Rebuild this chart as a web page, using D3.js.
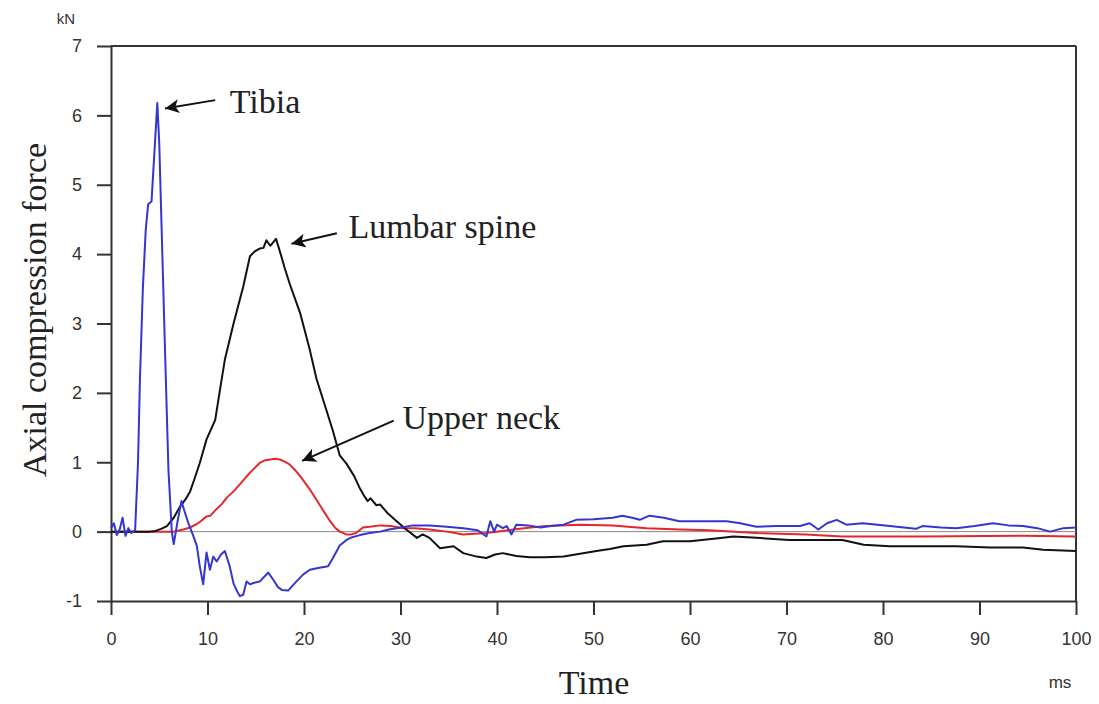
<!DOCTYPE html>
<html>
<head>
<meta charset="utf-8">
<script src="https://cdn.jsdelivr.net/npm/d3@7"></script>
<style>
  html, body { margin: 0; padding: 0; background: #fff; }
  svg { display: block; }
</style>
</head>
<body>
<svg id="chart" width="1099" height="704"></svg>
<script>
// ---- data (time in ms, force in kN) ----
const xTicks = [0, 10, 20, 30, 40, 50, 60, 70, 80, 90, 100];
const yTicks = [-1, 0, 1, 2, 3, 4, 5, 6, 7];

const tibia = [[0,0.05],[0.3,0.12],[0.6,-0.05],[0.9,0.03],[1.2,0.2],[1.5,-0.06],[1.8,0.05],[2.1,-0.02],[2.5,0.02],
  [2.8,1.0],[3.0,2.2],[3.3,3.5],[3.6,4.35],[3.85,4.72],[4.2,4.76],[4.8,6.18],[5.0,5.6],[5.25,4.35],[5.6,2.6],[5.95,0.9],
  [6.3,0.0],[6.5,-0.18],[6.9,0.15],[7.3,0.44],[7.6,0.3],[8.0,0.13],[8.5,-0.05],[8.9,-0.21],[9.2,-0.5],[9.55,-0.76],
  [9.9,-0.3],[10.25,-0.55],[10.6,-0.36],[10.95,-0.43],[11.4,-0.33],[11.8,-0.28],[12.3,-0.5],[12.7,-0.75],[13.0,-0.84],
  [13.35,-0.93],[13.7,-0.91],[14.05,-0.72],[14.4,-0.76],[14.75,-0.74],[15.4,-0.72],[16.3,-0.59],[16.8,-0.69],[17.3,-0.8],
  [17.7,-0.84],[18.35,-0.85],[19.2,-0.72],[19.9,-0.62],[20.6,-0.55],[21.6,-0.52],[22.5,-0.5],[23.0,-0.38],[23.7,-0.2],
  [24.4,-0.12],[25.0,-0.08],[25.8,-0.05],[26.8,-0.02],[27.9,0.0],[28.8,0.03],[29.6,0.05],[31.3,0.09],[33.0,0.09],
  [34.8,0.07],[36.5,0.05],[38.0,0.02],[38.9,-0.07],[39.3,0.15],[39.7,0.0],[40.0,0.1],[40.6,0.05],[41.0,0.08],[41.5,-0.04],
  [42.0,0.1],[43.2,0.09],[44.5,0.06],[45.6,0.08],[46.9,0.1],[48.2,0.17],[50.0,0.18],[52.0,0.2],[53.0,0.23],[54.0,0.2],
  [54.8,0.17],[55.8,0.23],[57.3,0.2],[58.9,0.15],[60.5,0.15],[62.0,0.15],[63.8,0.15],[65.2,0.12],[66.9,0.07],[69.0,0.08],
  [71.4,0.08],[72.4,0.12],[73.3,0.03],[74.2,0.12],[75.2,0.17],[76.2,0.1],[77.9,0.12],[80.7,0.08],[83.4,0.04],[84.1,0.08],
  [86.0,0.06],[87.6,0.05],[89.5,0.08],[91.4,0.12],[93.0,0.09],[94.5,0.08],[96.0,0.05],[97.3,0.0],[98.7,0.05],[100,0.06]];

const lumbar = [[0,0],[4,0],[4.6,0.01],[5.2,0.04],[5.8,0.08],[6.5,0.2],[7.15,0.36],[7.7,0.46],[8.2,0.58],[8.7,0.78],
  [9.2,0.99],[9.9,1.33],[10.8,1.61],[11.3,2.05],[11.8,2.48],[12.7,3.0],[13.7,3.53],[14.4,3.97],[14.9,4.04],[15.4,4.08],
  [15.8,4.09],[16.1,4.2],[16.5,4.12],[17.1,4.22],[17.5,4.04],[18.0,3.8],[18.5,3.58],[19.6,3.15],[20.6,2.62],[21.3,2.2],
  [22.3,1.76],[23.0,1.45],[23.7,1.1],[24.4,0.98],[25.2,0.8],[25.8,0.62],[26.3,0.5],[26.6,0.44],[26.9,0.48],[27.5,0.38],
  [27.9,0.39],[28.7,0.26],[29.6,0.15],[30.6,0.03],[31.7,-0.09],[32.3,-0.04],[33.0,-0.09],[34.1,-0.24],[35.5,-0.21],
  [36.5,-0.31],[37.9,-0.36],[38.9,-0.38],[39.8,-0.33],[40.6,-0.31],[42.0,-0.35],[43.4,-0.37],[45.0,-0.37],[46.9,-0.36],
  [48.6,-0.32],[50.3,-0.28],[51.7,-0.25],[53.1,-0.21],[55.5,-0.19],[57.2,-0.14],[60,-0.14],[62.7,-0.1],[64.5,-0.07],
  [66.9,-0.09],[70.3,-0.12],[73,-0.12],[75.8,-0.12],[78,-0.19],[80.7,-0.21],[84,-0.21],[87.6,-0.21],[91.1,-0.23],
  [94.5,-0.23],[96.6,-0.26],[100,-0.28]];

const neck = [[0,0],[6.5,0],[7.5,0.03],[8.2,0.06],[8.9,0.11],[9.3,0.15],[9.9,0.22],[10.3,0.23],[10.9,0.32],[11.5,0.4],
  [12.0,0.49],[12.7,0.58],[13.35,0.68],[14.4,0.85],[15.4,0.99],[16.0,1.03],[16.5,1.04],[17.0,1.05],[17.5,1.04],[18.0,1.01],
  [18.5,0.97],[19.0,0.9],[19.6,0.8],[20.6,0.61],[21.6,0.39],[22.2,0.26],[22.7,0.15],[23.2,0.06],[23.7,0.0],[24.4,-0.04],
  [24.9,-0.04],[25.4,-0.02],[26.1,0.06],[26.8,0.07],[27.9,0.09],[29,0.08],[30.3,0.05],[31.5,0.05],[33,0.03],[34.8,0.0],
  [36.5,-0.04],[38.9,-0.02],[41.7,0.03],[43.5,0.06],[45.1,0.08],[48.6,0.1],[52,0.09],[55.5,0.05],[59,0.03],[62,0.02],
  [66.9,-0.02],[72,-0.04],[75.8,-0.07],[84,-0.07],[94.5,-0.06],[100,-0.07]];

// annotations: label, arrow tip [t, v], arrow tail [t, v], text anchor [t, v]
const labels = [
  { text: "Tibia",        tip: [5.6, 6.1],  tail: [10.8, 6.22], pos: [12.3, 6.03] },
  { text: "Lumbar spine", tip: [18.7, 4.15], tail: [23.4, 4.3], pos: [24.6, 4.23] },
  { text: "Upper neck",   tip: [19.8, 1.02], tail: [29.3, 1.6], pos: [30.2, 1.48] }
];

// ---- layout ----
const svg = d3.select("#chart");
const x = d3.scaleLinear().domain([0, 100]).range([111, 1076]);
const y = d3.scaleLinear().domain([-1, 7]).range([601, 46]);

const axisColor = "#333";
const serif = "'Liberation Serif', 'Times New Roman', serif";
const sans = "'Liberation Sans', Arial, sans-serif";

// frame: top and right
svg.append("line").attr("x1", x(0)).attr("x2", x(100)).attr("y1", y(7)).attr("y2", y(7))
  .attr("stroke", axisColor).attr("stroke-width", 2);
svg.append("line").attr("x1", x(100)).attr("x2", x(100)).attr("y1", y(7)).attr("y2", y(-1))
  .attr("stroke", axisColor).attr("stroke-width", 2);

// zero line
svg.append("line").attr("x1", x(0)).attr("x2", x(100)).attr("y1", y(0)).attr("y2", y(0))
  .attr("stroke", "#888").attr("stroke-width", 1);

// axes
const fmt = d => String(d);
const xAxis = svg.append("g").attr("transform", `translate(0,${y(-1)})`)
  .call(d3.axisBottom(x).tickValues(xTicks).tickFormat(fmt).tickSize(14).tickPadding(17).tickSizeOuter(0));
const yAxis = svg.append("g").attr("transform", `translate(${x(0)},0)`)
  .call(d3.axisLeft(y).tickValues(yTicks).tickFormat(fmt).tickSize(14).tickPadding(15).tickSizeOuter(0));

[xAxis, yAxis].forEach(g => {
  g.select(".domain").attr("stroke", axisColor).attr("stroke-width", 2);
  g.selectAll(".tick line").attr("stroke", axisColor).attr("stroke-width", 2);
  g.selectAll(".tick text").attr("fill", "#333")
    .style("font-family", sans).style("font-size", "18px");
});

// lines
const line = d3.line().x(d => x(d[0])).y(d => y(d[1]));
const series = [
  { data: neck,   color: "#e8262a" },
  { data: lumbar, color: "#111111" },
  { data: tibia,  color: "#3535cf" }
];
svg.append("g").selectAll("path").data(series).join("path")
  .attr("d", d => line(d.data))
  .attr("fill", "none").attr("stroke", d => d.color).attr("stroke-width", 2)
  .attr("stroke-linejoin", "round");

// arrow marker
svg.append("defs").append("marker")
  .attr("id", "arrow").attr("viewBox", "0 0 10 10").attr("refX", 10).attr("refY", 5)
  .attr("markerWidth", 19).attr("markerHeight", 14).attr("markerUnits", "userSpaceOnUse")
  .attr("orient", "auto")
  .append("path").attr("d", "M0,0 L10,5 L0,10 L2.5,5 z").attr("fill", "#111");

const ann = svg.append("g");
labels.forEach(l => {
  ann.append("line")
    .attr("x1", x(l.tail[0])).attr("y1", y(l.tail[1]))
    .attr("x2", x(l.tip[0])).attr("y2", y(l.tip[1]))
    .attr("stroke", "#111").attr("stroke-width", 2)
    .attr("marker-end", "url(#arrow)");
  ann.append("text")
    .attr("x", x(l.pos[0])).attr("y", y(l.pos[1]))
    .attr("fill", "#222")
    .style("font-family", serif)
    .style("font-size", "34px")
    .text(l.text);
});

// axis titles
svg.append("text").attr("transform", "translate(46,310) rotate(-90)")
  .attr("text-anchor", "middle").attr("fill", "#222")
  .style("font-family", serif).style("font-size", "34px")
  .text("Axial compression force");
svg.append("text").attr("x", 594).attr("y", 694).attr("text-anchor", "middle").attr("fill", "#222")
  .style("font-family", serif).style("font-size", "34px").text("Time");
svg.append("text").attr("x", 66).attr("y", 24).attr("text-anchor", "middle").attr("fill", "#333")
  .style("font-family", sans).style("font-size", "15px").text("kN");
svg.append("text").attr("x", 1060).attr("y", 688).attr("text-anchor", "middle").attr("fill", "#333")
  .style("font-family", sans).style("font-size", "17px").text("ms");
</script>
</body>
</html>
